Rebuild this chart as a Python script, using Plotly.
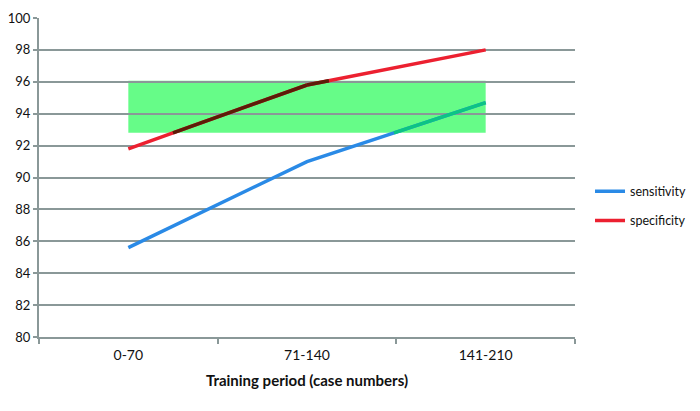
import numpy as np
import plotly.graph_objects as go

categories = ["0-70", "71-140", "141-210"]
sensitivity = [85.6, 91.0, 94.7]
specificity = [91.8, 95.8, 98.0]
band_low, band_high = 92.8, 96.07
band_x = [0, 2]  # category index span of the target band
y_ticks = list(range(80, 101, 2))

blue = (42, 138, 230)
red = (236, 32, 48)
green = (102, 252, 136)
blue_in_band = (12, 196, 132)
red_in_band = (92, 28, 8)

def rgb(c):
    return "rgb(%d,%d,%d)" % tuple(int(v) for v in c)

def clip_segments(ys, lo, hi, xlo, xhi):
    xs_out, ys_out = [], []
    for i in range(len(ys) - 1):
        x0, x1, y0, y1 = i, i + 1, ys[i], ys[i + 1]
        if y1 != y0:
            ta, tb = sorted([(lo - y0) / (y1 - y0), (hi - y0) / (y1 - y0)])
        else:
            ta, tb = (0.0, 1.0) if lo <= y0 <= hi else (1.0, 0.0)
        tx_a, tx_b = (xlo - x0) / (x1 - x0), (xhi - x0) / (x1 - x0)
        t0 = max(0.0, ta, tx_a)
        t1 = min(1.0, tb, tx_b)
        if t1 > t0:
            xs_out += [x0 + t0 * (x1 - x0), x0 + t1 * (x1 - x0), None]
            ys_out += [y0 + t0 * (y1 - y0), y0 + t1 * (y1 - y0), None]
    return xs_out, ys_out

xpos = list(range(len(categories)))
fig = go.Figure()
for name, vals, col in [("sensitivity", sensitivity, blue), ("specificity", specificity, red)]:
    fig.add_trace(go.Scatter(x=xpos, y=vals, mode="lines", name=name,
                             line=dict(color=rgb(col), width=3.5),
                             legendgroup=name, hoverinfo="skip"))
for vals, col in [(sensitivity, blue_in_band), (specificity, red_in_band)]:
    cx, cy = clip_segments(vals, band_low, band_high, band_x[0], band_x[1])
    fig.add_trace(go.Scatter(x=cx, y=cy, mode="lines", showlegend=False,
                             line=dict(color=rgb(col), width=3.5),
                             hoverinfo="skip"))

fig.add_shape(type="rect", xref="x", yref="y", x0=band_x[0], x1=band_x[1],
              y0=band_low, y1=band_high, fillcolor=rgb(green), line_width=0,
              layer="below")

grid = "#8a9898"
fig.update_layout(
    width=700, height=411,
    margin=dict(l=31, r=133, t=10, b=82),
    paper_bgcolor="white", plot_bgcolor="rgba(0,0,0,0)",
    font=dict(family="Lato, Open Sans, sans-serif", color="#111", size=14),
    showlegend=True,
    legend=dict(x=1.028, y=0.41, xanchor="left", yanchor="middle",
                font=dict(size=12.5), tracegroupgap=10, itemwidth=30,
                bgcolor="rgba(0,0,0,0)"),
    xaxis=dict(range=[-0.5, 2.5], tickvals=xpos, ticktext=categories,
               automargin=False,
               showgrid=False, zeroline=False, showline=True, linecolor=grid,
               linewidth=2, ticks="", tickfont=dict(size=14),
               ticklabelstandoff=4,
               minor=dict(tick0=0.5, dtick=1, ticks="outside", ticklen=5,
                          tickcolor=grid, tickwidth=2, showgrid=False),
               title=dict(text="<b>Training period (case numbers)</b>",
                          font=dict(size=15), standoff=14)),
    yaxis=dict(range=[80, 100], tickvals=y_ticks, showgrid=True,
               automargin=False,
               gridcolor=grid, gridwidth=2, zeroline=False, showline=True,
               linecolor=grid, linewidth=2, ticks="outside", ticklen=4,
               tickcolor=grid, tickwidth=2, tickfont=dict(size=13)),
)
fig.write_html("out.html")
